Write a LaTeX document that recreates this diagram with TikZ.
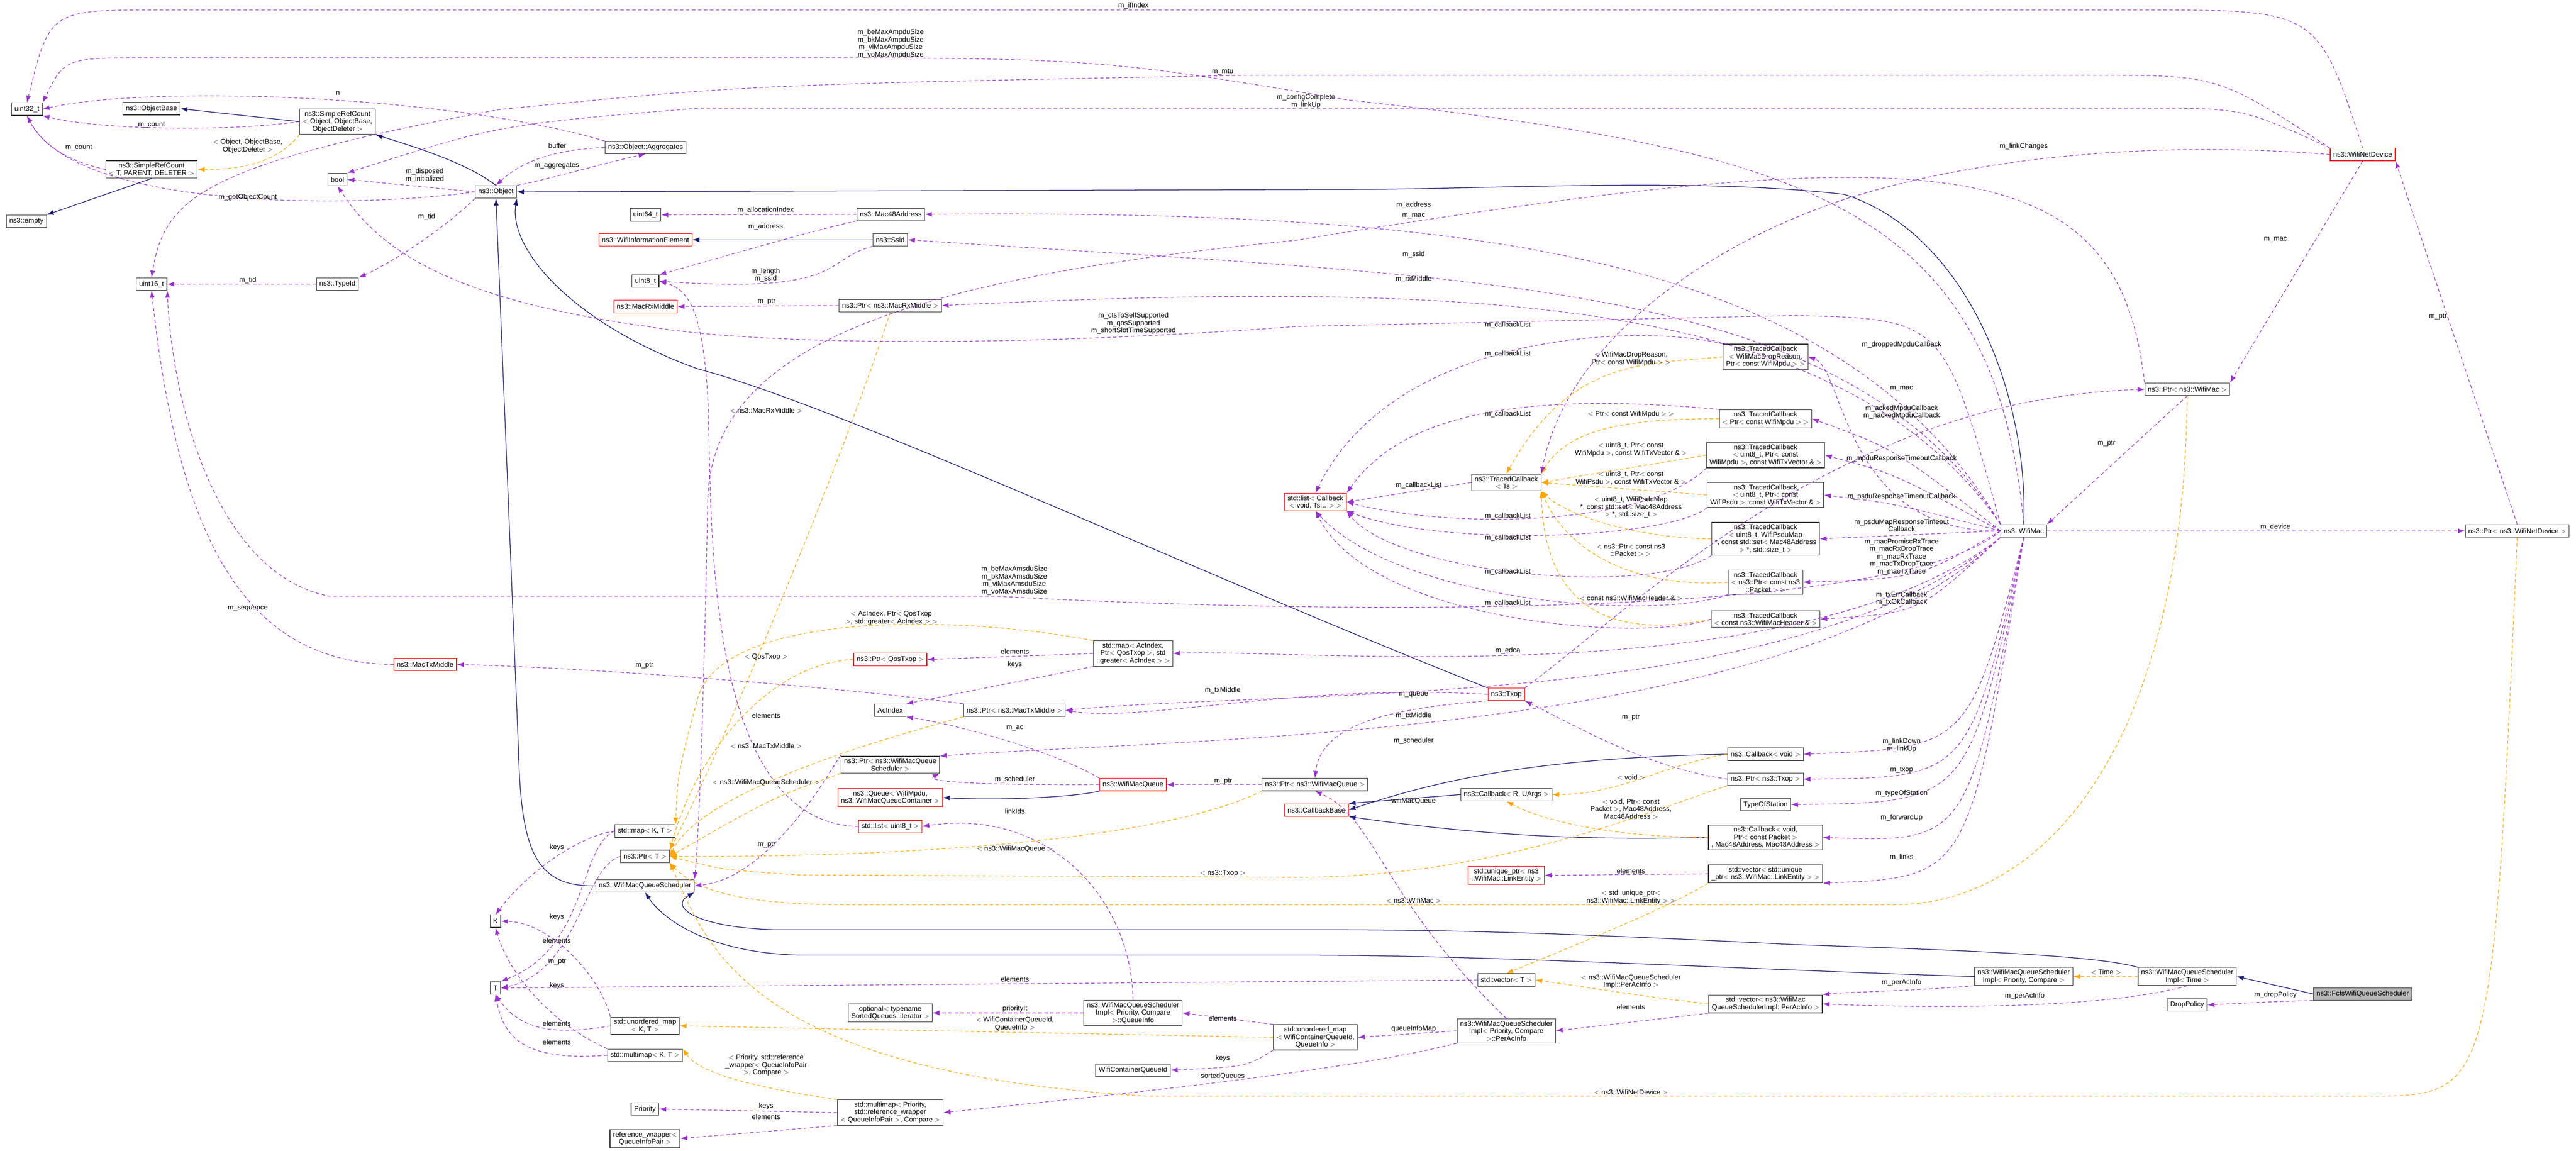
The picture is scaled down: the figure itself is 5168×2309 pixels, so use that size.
\documentclass[tikz,border=0pt]{standalone}
\usepackage{fontspec}
\setmainfont{Liberation Sans}
\usetikzlibrary{arrows.meta}
\definecolor{memc}{HTML}{9A32CD}
\definecolor{inhc}{HTML}{191970}
\definecolor{tplc}{HTML}{FFA500}
\definecolor{redb}{HTML}{FF0000}
\newcommand{\fnt}{\fontsize{14}{15}\selectfont}
\tikzset{
 box/.style={draw=black!80, line width=1.2pt, fill=white, font=\fnt, align=center, inner xsep=6pt, inner ysep=4pt, minimum height=25pt},
 redbox/.style={box, draw=redb},
 graybox/.style={box, fill=black!27},
 mem/.style={draw=memc, line width=1.2pt, dash pattern=on 7pt off 5pt, -{Latex[length=14pt,width=10pt]}},
 inh/.style={draw=inhc, line width=1.3pt, -{Latex[length=14pt,width=10pt]}},
 tpl/.style={draw=tplc, line width=1.2pt, dash pattern=on 7pt off 5pt, -{Latex[length=14pt,width=10pt]}},
 lbl/.style={font=\fnt, align=center, inner sep=0pt}
}
\newcommand{\lb}[4]{\node[lbl] (#1) at (#2,#3) {#4};}
\begin{document}
\begin{tikzpicture}[x=1pt,y=-1pt]
\useasboundingbox (0,0) rectangle (5168,2309);
% ---------- nodes ----------
\node[box] (u32) at (54,219) {uint32\_t};
\node[box] (obase) at (304,218) {ns3::ObjectBase};
\node[box] (srco) at (677,244) {ns3::SimpleRefCount\\$<$ Object, ObjectBase,\\ObjectDeleter $>$};
\node[box] (srct) at (304,340) {ns3::SimpleRefCount\\$<$ T, PARENT, DELETER $>$};
\node[box] (empty) at (53,444) {ns3::empty};
\node[box] (bool) at (677,360) {bool};
\node[box] (obj) at (995,385) {ns3::Object};
\node[box] (aggr) at (1295,296) {ns3::Object::Aggregates};
\node[box] (u64) at (1295,431) {uint64\_t};
\node[redbox] (wie) at (1295,481) {ns3::WifiInformationElement};
\node[box] (u8) at (1295,564) {uint8\_t};
\node[redbox] (mrx) at (1295,615) {ns3::MacRxMiddle};
\node[box] (u16) at (304,570) {uint16\_t};
\node[box] (tid) at (677,570) {ns3::TypeId};
\node[redbox] (mtx) at (853,1333) {ns3::MacTxMiddle};
\node[box] (K) at (994,1848) {K};
\node[box] (T) at (994,1982) {T};
\node[box] (mapKT) at (1294,1667) {std::map$<$ K, T $>$};
\node[box] (ptrT) at (1294,1718) {ns3::Ptr$<$ T $>$};
\node[box] (wmqs) at (1294,1777) {ns3::WifiMacQueueScheduler};
\node[box] (umapKT) at (1294,2058) {std::unordered\_map\\$<$ K, T $>$};
\node[box] (mmapKT) at (1294,2117) {std::multimap$<$ K, T $>$};
\node[box] (prio) at (1294,2225) {Priority};
\node[box] (refw) at (1294,2284) {reference\_wrapper$<$\\QueueInfoPair $>$};
\node[box] (mac48) at (1787,430) {ns3::Mac48Address};
\node[box] (ssid) at (1786,481) {ns3::Ssid};
\node[box] (pmrx) at (1786,613) {ns3::Ptr$<$ ns3::MacRxMiddle $>$};
\node[box] (mapac) at (2273,1311) {std::map$<$ AcIndex,\\Ptr$<$ QosTxop $>$, std\\::greater$<$ AcIndex $>$ $>$};
\node[redbox] (pqos) at (1786,1323) {ns3::Ptr$<$ QosTxop $>$};
\node[box] (acidx) at (1786,1425) {AcIndex};
\node[box] (pmtx) at (2035,1425) {ns3::Ptr$<$ ns3::MacTxMiddle $>$};
\node[box] (pwmqs) at (1786,1534) {ns3::Ptr$<$ ns3::WifiMacQueue\\Scheduler $>$};
\node[redbox] (wmq) at (2273,1574) {ns3::WifiMacQueue};
\node[redbox] (queue) at (1786,1600) {ns3::Queue$<$ WifiMpdu,\\ns3::WifiMacQueueContainer $>$};
\node[box] (pwmq) at (2638,1574) {ns3::Ptr$<$ ns3::WifiMacQueue $>$};
\node[redbox] (list8) at (1786,1658) {std::list$<$ uint8\_t $>$};
\node[box] (optl) at (1786,2032) {optional$<$ typename\\SortedQueues::iterator $>$};
\node[box] (qinfo) at (2273,2032) {ns3::WifiMacQueueScheduler\\Impl$<$ Priority, Compare\\$>$::QueueInfo};
\node[box] (wcqid) at (2273,2147) {WifiContainerQueueId};
\node[box] (mmprio) at (1786,2232) {std::multimap$<$ Priority,\\std::reference\_wrapper\\$<$ QueueInfoPair $>$, Compare $>$};
\node[box] (umapq) at (2639,2081) {std::unordered\_map\\$<$ WifiContainerQueueId,\\QueueInfo $>$};
\node[box] (tcdrop) at (3542,716) {ns3::TracedCallback\\$<$ WifiMacDropReason,\\Ptr$<$ const WifiMpdu $>$ $>$};
\node[redbox] (listcb) at (2639,1007) {std::list$<$ Callback\\$<$ void, Ts... $>$ $>$};
\node[box] (tcts) at (3022,968) {ns3::TracedCallback\\$<$ Ts $>$};
\node[box] (tcmpdu) at (3542,840) {ns3::TracedCallback\\$<$ Ptr$<$ const WifiMpdu $>$ $>$};
\node[box] (tcmpdu3) at (3542,913) {ns3::TracedCallback\\$<$ uint8\_t, Ptr$<$ const\\WifiMpdu $>$, const WifiTxVector \& $>$};
\node[box] (tcpsdu) at (3542,993) {ns3::TracedCallback\\$<$ uint8\_t, Ptr$<$ const\\WifiPsdu $>$, const WifiTxVector \& $>$};
\node[box] (tcpsdumap) at (3542,1081) {ns3::TracedCallback\\$<$ uint8\_t, WifiPsduMap\\*, const std::set$<$ Mac48Address\\$>$ *, std::size\_t $>$};
\node[box] (tcpkt) at (3542,1168) {ns3::TracedCallback\\$<$ ns3::Ptr$<$ const ns3\\::Packet $>$ $>$};
\node[box] (tchdr) at (3542,1242) {ns3::TracedCallback\\$<$ const ns3::WifiMacHeader \& $>$};
\node[redbox] (txop) at (3022,1393) {ns3::Txop};
\node[box] (cbv) at (3542,1513) {ns3::Callback$<$ void $>$};
\node[box] (ptxop) at (3542,1563) {ns3::Ptr$<$ ns3::Txop $>$};
\node[box] (cbr) at (3022,1594) {ns3::Callback$<$ R, UArgs $>$};
\node[redbox] (cbbase) at (2641,1625) {ns3::CallbackBase};
\node[box] (tos) at (3542,1614) {TypeOfStation};
\node[box] (cbfwd) at (3542,1680) {ns3::Callback$<$ void,\\Ptr$<$ const Packet $>$\\, Mac48Address, Mac48Address $>$};
\node[redbox] (uptr) at (3022,1756) {std::unique\_ptr$<$ ns3\\::WifiMac::LinkEntity $>$};
\node[box] (vuptr) at (3542,1753) {std::vector$<$ std::unique\\\_ptr$<$ ns3::WifiMac::LinkEntity $>$ $>$};
\node[box] (vecT) at (3022,1966) {std::vector$<$ T $>$};
\node[box] (vperac) at (3542,2014) {std::vector$<$ ns3::WifiMac\\QueueSchedulerImpl::PerAcInfo $>$};
\node[box] (perac) at (3022,2068) {ns3::WifiMacQueueScheduler\\Impl$<$ Priority, Compare\\$>$::PerAcInfo};
\node[redbox] (wnd) at (4740,310) {ns3::WifiNetDevice};
\node[box] (pwm) at (4388,781) {ns3::Ptr$<$ ns3::WifiMac $>$};
\node[box] (wm) at (4060,1065) {ns3::WifiMac};
\node[box] (pwnd) at (5050,1065) {ns3::Ptr$<$ ns3::WifiNetDevice $>$};
\node[box] (implpc) at (4060,1959) {ns3::WifiMacQueueScheduler\\Impl$<$ Priority, Compare $>$};
\node[box] (impltime) at (4388,1959) {ns3::WifiMacQueueScheduler\\Impl$<$ Time $>$};
\node[graybox] (fcfs) at (4740,1994) {ns3::FcfsWifiQueueScheduler};
\node[box] (drop) at (4388,2016) {DropPolicy};

\begin{scope}[on background layer/.style={}]
% ---------- inheritance ----------
\draw[inh] (srco.west) -- (obase.east);
\draw[inh] (srct.south) -- (empty.north east);
\draw[inh] (obj.north) .. controls (940,330) and (850,300) .. (srco.south east);
\draw[inh] (wm.north) .. controls (4070,800) and (3950,470) .. (3700,390) .. controls (3400,355) and (3000,380) .. (2700,380) -- (obj.east);
\draw[inh] (txop.north west) .. controls (2400,1150) and (1700,820) .. (1400,740) .. controls (1150,650) and (1020,500) .. (obj.south east);
\draw[inh] (wmqs.west) .. controls (1070,1780) and (1045,1700) .. (1040,1500) -- (obj.south);
\draw[inh] (ssid.west) -- (wie.east);
\draw[inh] (wmq.south west) .. controls (2150,1600) and (2000,1606) .. (queue.east);
\draw[inh] (implpc.west) .. controls (3500,1945) and (3000,1916) .. (2600,1916) -- (1600,1916) .. controls (1400,1910) and (1320,1830) .. (wmqs.south);
\draw[inh] (impltime.north west) .. controls (4200,1915) and (3900,1905) .. (3600,1895) .. controls (3100,1870) and (2900,1865) .. (2600,1865) -- (1550,1865) .. controls (1400,1860) and (1340,1820) .. (wmqs.south east);
\draw[inh] (fcfs.west) -- (impltime.east);
\draw[inh] (cbv.west) .. controls (3100,1520) and (2900,1560) .. (cbbase.east);
\draw[inh] (cbr.west) -- (cbbase.north east);
\draw[inh] (cbfwd.west) .. controls (3200,1685) and (3000,1680) .. (cbbase.south east);

% ---------- template instantiation ----------
\draw[tpl] (srco.south west) .. controls (560,320) and (500,340) .. (srct.east);
\draw[tpl] (pmrx.south) .. controls (1700,900) and (1450,1500) .. (ptrT.north east);
\draw[tpl] (mapac.north west) .. controls (1900,1230) and (1450,1230) .. (1400,1400) .. controls (1360,1550) .. (mapKT.north east);
\draw[tpl] (pqos.west) .. controls (1550,1330) and (1400,1500) .. (ptrT.north east);
\draw[tpl] (pmtx.south west) .. controls (1700,1500) and (1400,1600) .. (ptrT.east);
\draw[tpl] (pwmqs.south west) .. controls (1550,1600) .. (ptrT.east);
\draw[tpl] (pwmq.south west) .. controls (2300,1700) and (1700,1720) .. (ptrT.east);
\draw[tpl] (ptxop.south west) .. controls (3300,1630) and (3000,1760) .. (2600,1760) -- (1600,1755) .. controls (1450,1745) .. (ptrT.east);
\draw[tpl] (pwm.south) .. controls (4380,1500) and (4100,1815) .. (3800,1815) -- (1700,1815) .. controls (1500,1815) and (1400,1790) .. (ptrT.south east);
\draw[tpl] (pwnd.south) .. controls (5000,2199) .. (4750,2199) -- (2300,2199) .. controls (1500,2150) and (1420,1900) .. (ptrT.south east);
\draw[tpl] (umapq.west) -- (umapKT.east);
\draw[tpl] (mmprio.north west) .. controls (1500,2180) and (1400,2150) .. (mmapKT.north east);
\draw[tpl] (tcdrop.west) .. controls (3300,730) and (3150,720) .. (tcts.north);
\draw[tpl] (tcmpdu.west) .. controls (3300,840) and (3150,850) .. (tcts.north east);
\draw[tpl] (tcmpdu3.west) -- (tcts.east);
\draw[tpl] (tcpsdu.west) -- (tcts.east);
\draw[tpl] (tcpsdumap.west) .. controls (3300,1080) and (3150,1040) .. (tcts.south east);
\draw[tpl] (tcpkt.west) .. controls (3300,1180) and (3150,1120) .. (tcts.south east);
\draw[tpl] (tchdr.west) .. controls (3300,1270) and (3100,1270) .. (tcts.south east);
\draw[tpl] (cbv.west) .. controls (3350,1530) and (3250,1594) .. (cbr.east);
\draw[tpl] (cbfwd.west) .. controls (3250,1680) and (3100,1650) .. (cbr.south);
\draw[tpl] (vuptr.south west) .. controls (3350,1820) and (3150,1900) .. (vecT.north);
\draw[tpl] (vperac.west) .. controls (3300,2000) and (3150,1975) .. (vecT.east);
\draw[tpl] (impltime.west) -- (implpc.east);

% ---------- members ----------
\draw[mem] (srco.west) .. controls (450,265) and (200,260) .. (u32.south east);
\draw[mem] (srct.west) .. controls (120,320) and (80,280) .. (u32.south);
\draw[mem] (obj.west) .. controls (700,420) and (150,420) .. (u32.south);
\draw[mem] (aggr.north west) .. controls (900,190) and (300,170) .. (u32.east);
\draw[mem] (obj.west) -- (bool.east);
\draw[mem] (obj.south west) .. controls (900,450) and (800,520) .. (tid.north east);
\draw[mem] (aggr.west) .. controls (1100,300) and (1040,330) .. (obj.north);
\draw[mem] (obj.north east) .. controls (1100,360) and (1200,330) .. (aggr.south);
\draw[mem] (tid.west) -- (u16.east);
\draw[mem] (mac48.west) -- (u64.east);
\draw[mem] (mac48.south west) .. controls (1600,470) and (1400,530) .. (u8.north east);
\draw[mem] (ssid.south west) .. controls (1650,520) and (1700,590) .. (u8.east);
\draw[mem] (pmrx.west) -- (mrx.east);
\draw[mem] (mtx.west) .. controls (500,1330) and (360,1100) .. (u16.south);
\draw[mem] (pmtx.north west) .. controls (1700,1380) and (1200,1340) .. (mtx.east);
\draw[mem] (list8.west) .. controls (1400,1650) and (1430,1000) .. (1420,800) .. controls (1410,620) and (1380,580) .. (u8.east);
% WifiNetDevice
\draw[mem] (wnd.north) .. controls (4650,20) .. (4300,20) -- (320,20) .. controls (100,20) .. (u32.north);
\draw[mem] (wnd.north west) .. controls (4450,151) .. (4200,151) -- (2500,151) .. controls (1500,170) .. (1000,220) .. controls (400,330) and (330,400) .. (u16.north);
\draw[mem] (wnd.north west) .. controls (4500,217) .. (4300,217) -- (1400,217) .. controls (1000,250) .. (bool.north east);
\draw[mem] (wnd.west) .. controls (4300,280) and (3950,320) .. (3700,400) .. controls (3400,500) and (3140,700) .. (tcts.north east);
\draw[mem] (wnd.south) -- (pwm.north east);
\draw[mem] (pwnd.north) -- (wnd.south east);
\draw[mem] (pwm.south) -- (wm.north east);
\draw[mem] (wm.east) -- (pwnd.west);
% WifiMac members
\draw[mem] (wm.north) .. controls (4000,400) and (3600,300) .. (2700,200) .. controls (2200,116) .. (1500,116) -- (300,116) .. controls (130,116) .. (u32.north east);
\draw[mem] (wm.north west) .. controls (3900,640) .. (3600,633) -- (2600,655) .. controls (2000,700) and (1500,690) .. (1300,655) .. controls (900,600) and (760,500) .. (bool.south);
\draw[mem] (wm.west) .. controls (3800,1250) and (2600,1230) .. (2000,1196) -- (660,1196) .. controls (430,1150) and (345,800) .. (u16.south east);
\draw[mem] (wm.north west) .. controls (3700,520) and (3000,420) .. (mac48.east);
\draw[mem] (wm.north west) .. controls (3700,560) and (3000,560) .. (ssid.east);
\draw[mem] (wm.north west) .. controls (3700,600) and (3000,560) .. (pmrx.east);
\draw[mem] (wm.west) .. controls (3700,1070) and (3700,740) .. (tcdrop.east);
\draw[mem] (wm.west) .. controls (3800,900) .. (tcmpdu.east);
\draw[mem] (wm.west) .. controls (3800,950) .. (tcmpdu3.east);
\draw[mem] (wm.west) .. controls (3800,1010) .. (tcpsdu.east);
\draw[mem] (wm.west) -- (tcpsdumap.east);
\draw[mem] (wm.west) .. controls (3850,1160) .. (tcpkt.east);
\draw[mem] (wm.south west) .. controls (3850,1230) .. (tchdr.east);
\draw[mem] (wm.south west) .. controls (3600,1400) and (2600,1300) .. (mapac.east);
\draw[mem] (wm.south west) .. controls (3600,1430) and (2600,1380) .. (pmtx.east);
\draw[mem] (wm.south west) .. controls (3600,1480) and (2400,1480) .. (pwmqs.north east);
\draw[mem] (wm.south) .. controls (3950,1500) .. (cbv.east);
\draw[mem] (wm.south) .. controls (3950,1560) .. (ptxop.east);
\draw[mem] (wm.south) .. controls (3950,1610) .. (tos.east);
\draw[mem] (wm.south) .. controls (3950,1690) .. (cbfwd.east);
\draw[mem] (wm.south) .. controls (3950,1760) .. (vuptr.south east);
\draw[mem] (txop.north east) .. controls (3300,1200) and (3700,800) .. (pwm.west);
% TracedCallbacks -> list
\draw[mem] (tcdrop.north west) .. controls (3300,650) and (2800,660) .. (listcb.north);
\draw[mem] (tcmpdu.north west) .. controls (3000,780) and (2800,850) .. (listcb.north east);
\draw[mem] (tcts.west) -- (listcb.east);
\draw[mem] (tcmpdu3.south west) .. controls (3300,1060) and (2900,1060) .. (listcb.east);
\draw[mem] (tcpsdu.south west) .. controls (3350,1080) and (2900,1100) .. (listcb.south east);
\draw[mem] (tcpsdumap.south west) .. controls (3300,1200) and (2800,1150) .. (listcb.south east);
\draw[mem] (tcpkt.south west) .. controls (3300,1250) and (2800,1200) .. (listcb.south);
\draw[mem] (tchdr.west) .. controls (3300,1290) and (2750,1250) .. (listcb.south);
% Txop
\draw[mem] (txop.west) .. controls (2600,1370) and (2300,1450) .. (pmtx.east);
\draw[mem] (txop.south west) .. controls (2800,1420) and (2650,1450) .. (pwmq.north);
\draw[mem] (ptxop.west) .. controls (3300,1540) and (3150,1450) .. (txop.south east);
% map, queues
\draw[mem] (mapac.west) -- (pqos.east);
\draw[mem] (mapac.south west) -- (acidx.north east);
\draw[mem] (wmq.north west) .. controls (2100,1500) and (1900,1450) .. (acidx.south east);
\draw[mem] (wmq.west) .. controls (2000,1575) and (1850,1570) .. (pwmqs.south east);
\draw[mem] (pwmq.west) -- (wmq.east);
\draw[mem] (pwmqs.north west) .. controls (1690,1500) and (1560,1760) .. (wmqs.east);
\draw[mem] (perac.north) .. controls (2770,1800) and (2760,1640) .. (pwmq.south);
\draw[mem] (pwm.north west) .. controls (4250,300) and (3900,270) .. (2600,482) .. controls (1800,560) and (1430,700) .. (1420,1000) .. controls (1410,1500) and (1400,1700) .. (wmqs.north east);
% generic containers
\draw[mem] (mapKT.west) .. controls (1150,1680) and (1050,1760) .. (K.north);
\draw[mem] (mapKT.west) .. controls (1160,1700) and (1180,1900) .. (T.north east);
\draw[mem] (ptrT.west) .. controls (1170,1740) and (1160,1950) .. (T.east);
\draw[mem] (umapKT.north west) .. controls (1200,1950) and (1100,1850) .. (K.east);
\draw[mem] (umapKT.west) .. controls (1100,2080) and (1040,2060) .. (T.south);
\draw[mem] (mmapKT.north west) .. controls (1100,2050) and (1020,1950) .. (K.south);
\draw[mem] (mmapKT.west) .. controls (1050,2130) and (1010,2080) .. (T.south);
\draw[mem] (vecT.west) -- (T.east);
% scheduler impl
\draw[mem] (umapq.north west) -- (qinfo.east);
\draw[mem] (umapq.south west) .. controls (2500,2140) .. (wcqid.east);
\draw[mem] (qinfo.west) -- (optl.east);
\draw[mem] (qinfo.north) .. controls (2270,1800) and (2100,1620) .. (list8.east);
\draw[mem] (mmprio.west) -- (prio.east);
\draw[mem] (mmprio.south west) -- (refw.east);
\draw[mem] (perac.west) -- (umapq.east);
\draw[mem] (perac.south west) .. controls (2700,2150) and (2200,2200) .. (mmprio.east);
\draw[mem] (vuptr.west) -- (uptr.east);
\draw[mem] (vperac.south west) -- (perac.east);
\draw[mem] (implpc.south west) .. controls (3800,1990) and (3700,1990) .. (vperac.north east);
\draw[mem] (impltime.south) .. controls (4200,2030) and (3800,2020) .. (vperac.east);
\draw[mem] (fcfs.south west) .. controls (4550,2010) .. (drop.east);
\end{scope}

% ---------- labels ----------
\lb{l1}{2274}{11}{m\_ifIndex}
\lb{l2}{1787}{88}{m\_beMaxAmpduSize\\m\_bkMaxAmpduSize\\m\_viMaxAmpduSize\\m\_voMaxAmpduSize}
\lb{l3}{2453}{144}{m\_mtu}
\lb{l4}{2620}{203}{m\_configComplete\\m\_linkUp}
\lb{l5}{678}{187}{n}
\lb{l6}{304}{251}{m\_count}
\lb{l7}{158}{296}{m\_count}
\lb{l8}{497}{293}{$<$ Object, ObjectBase,\\ObjectDeleter $>$}
\lb{l9}{1118}{292}{buffer}
\lb{l10}{1117}{332}{m\_aggregates}
\lb{l11}{852}{352}{m\_disposed\\m\_initialized}
\lb{l12}{497}{396}{m\_getObjectCount}
\lb{l13}{856}{435}{m\_tid}
\lb{l14}{497}{562}{m\_tid}
\lb{l15}{1536}{422}{m\_allocationIndex}
\lb{l16}{1536}{455}{m\_address}
\lb{l17}{1536}{552}{m\_length\\m\_ssid}
\lb{l18}{1538}{605}{m\_ptr}
\lb{l19}{2274}{649}{m\_ctsToSelfSupported\\m\_qosSupported\\m\_shortSlotTimeSupported}
\lb{l20}{2836}{411}{m\_address}
\lb{l21}{2836}{433}{m\_mac}
\lb{l22}{2836}{511}{m\_ssid}
\lb{l23}{2836}{560}{m\_rxMiddle}
\lb{l24}{3025}{652}{m\_callbackList}
\lb{l25}{3025}{710}{m\_callbackList}
\lb{l26}{3272}{720}{$<$ WifiMacDropReason,\\Ptr$<$ const WifiMpdu $>$ $>$}
\lb{l27}{3815}{691}{m\_droppedMpduCallback}
\lb{l28}{3815}{780}{m\_mac}
\lb{l29}{4060}{294}{m\_linkChanges}
\lb{l30}{4565}{481}{m\_mac}
\lb{l31}{4891}{635}{m\_ptr}
\lb{l32}{4226}{889}{m\_ptr}
\lb{l33}{4565}{1057}{m\_device}
\lb{l34}{3025}{831}{m\_callbackList}
\lb{l35}{2846}{974}{m\_callbackList}
\lb{l36}{3025}{1036}{m\_callbackList}
\lb{l37}{3025}{1079}{m\_callbackList}
\lb{l38}{3025}{1147}{m\_callbackList}
\lb{l39}{3025}{1210}{m\_callbackList}
\lb{l40}{3272}{831}{$<$ Ptr$<$ const WifiMpdu $>$ $>$}
\lb{l41}{3272}{902}{$<$ uint8\_t, Ptr$<$ const\\WifiMpdu $>$, const WifiTxVector \& $>$}
\lb{l42}{3272}{959}{$<$ uint8\_t, Ptr$<$ const\\WifiPsdu $>$, const WifiTxVector \& $>$}
\lb{l43}{3272}{1018}{$<$ uint8\_t, WifiPsduMap\\*, const std::set$<$ Mac48Address\\$>$ *, std::size\_t $>$}
\lb{l44}{3272}{1104}{$<$ ns3::Ptr$<$ const ns3\\::Packet $>$ $>$}
\lb{l45}{3272}{1200}{$<$ const ns3::WifiMacHeader \& $>$}
\lb{l46}{3815}{827}{m\_ackedMpduCallback\\m\_nackedMpduCallback}
\lb{l47}{3815}{920}{m\_mpduResponseTimeoutCallback}
\lb{l48}{3815}{996}{m\_psduResponseTimeoutCallback}
\lb{l49}{3815}{1054}{m\_psduMapResponseTimeout\\Callback}
\lb{l50}{3815}{1117}{m\_macPromiscRxTrace\\m\_macRxDropTrace\\m\_macRxTrace\\m\_macTxDropTrace\\m\_macTxTrace}
\lb{l51}{3815}{1201}{m\_txErrCallback\\m\_txOkCallback}
\lb{l52}{3025}{1305}{m\_edca}
\lb{l53}{2836}{1394}{m\_queue}
\lb{l54}{2836}{1436}{m\_txMiddle}
\lb{l55}{3272}{1439}{m\_ptr}
\lb{l56}{2836}{1486}{m\_scheduler}
\lb{l57}{3815}{1495}{m\_linkDown\\m\_linkUp}
\lb{l58}{3815}{1545}{m\_txop}
\lb{l59}{3272}{1559}{$<$ void $>$}
\lb{l60}{3815}{1592}{m\_typeOfStation}
\lb{l61}{2836}{1607}{wifiMacQueue}
\lb{l62}{3272}{1623}{$<$ void, Ptr$<$ const\\Packet $>$, Mac48Address,\\Mac48Address $>$}
\lb{l63}{3815}{1640}{m\_forwardUp}
\lb{l64}{3815}{1720}{m\_links}
\lb{l65}{3272}{1747}{elements}
\lb{l66}{3272}{1800}{$<$ std::unique\_ptr$<$\\ns3::WifiMac::LinkEntity $>$ $>$}
\lb{l67}{2836}{1807}{$<$ ns3::WifiMac $>$}
\lb{l68}{3272}{1969}{$<$ ns3::WifiMacQueueScheduler\\Impl::PerAcInfo $>$}
\lb{l69}{3815}{1971}{m\_perAcInfo}
\lb{l70}{3272}{2020}{elements}
\lb{l71}{2836}{2064}{queueInfoMap}
\lb{l72}{3272}{2191}{$<$ ns3::WifiNetDevice $>$}
\lb{l73}{4225}{1950}{$<$ Time $>$}
\lb{l74}{4062}{1998}{m\_perAcInfo}
\lb{l75}{4565}{1996}{m\_dropPolicy}
\lb{l76}{1537}{824}{$<$ ns3::MacRxMiddle $>$}
\lb{l77}{2035}{1165}{m\_beMaxAmsduSize\\m\_bkMaxAmsduSize\\m\_viMaxAmsduSize\\m\_voMaxAmsduSize}
\lb{l78}{1788}{1240}{$<$ AcIndex, Ptr$<$ QosTxop\\$>$, std::greater$<$ AcIndex $>$ $>$}
\lb{l79}{2036}{1307}{elements}
\lb{l80}{2036}{1333}{keys}
\lb{l81}{1537}{1318}{$<$ QosTxop $>$}
\lb{l82}{2453}{1385}{m\_txMiddle}
\lb{l83}{1537}{1435}{elements}
\lb{l84}{2036}{1461}{m\_ac}
\lb{l85}{1537}{1496}{$<$ ns3::MacTxMiddle $>$}
\lb{l86}{1537}{1570}{$<$ ns3::WifiMacQueueScheduler $>$}
\lb{l87}{2036}{1564}{m\_scheduler}
\lb{l88}{2454}{1567}{m\_ptr}
\lb{l89}{2036}{1628}{linkIds}
\lb{l90}{1538}{1695}{m\_ptr}
\lb{l91}{2036}{1703}{$<$ ns3::WifiMacQueue $>$}
\lb{l92}{2453}{1752}{$<$ ns3::Txop $>$}
\lb{l93}{2036}{1964}{elements}
\lb{l94}{2036}{2024}{priorityIt}
\lb{l95}{2036}{2054}{$<$ WifiContainerQueueId,\\QueueInfo $>$}
\lb{l96}{2453}{2043}{elements}
\lb{l97}{2453}{2123}{keys}
\lb{l98}{2453}{2159}{sortedQueues}
\lb{l99}{1537}{2137}{$<$ Priority, std::reference\\\_wrapper$<$ QueueInfoPair\\$>$, Compare $>$}
\lb{l100}{1537}{2219}{keys}
\lb{l101}{1537}{2240}{elements}
\lb{l102}{1117}{1700}{keys}
\lb{l103}{1117}{1840}{keys}
\lb{l104}{1117}{1887}{elements}
\lb{l105}{1118}{1929}{m\_ptr}
\lb{l106}{1117}{1977}{keys}
\lb{l107}{1117}{2053}{elements}
\lb{l108}{1117}{2091}{elements}
\lb{l109}{497}{1221}{m\_sequence}
\lb{l110}{1293}{1335}{m\_ptr}
\end{tikzpicture}
\end{document}
